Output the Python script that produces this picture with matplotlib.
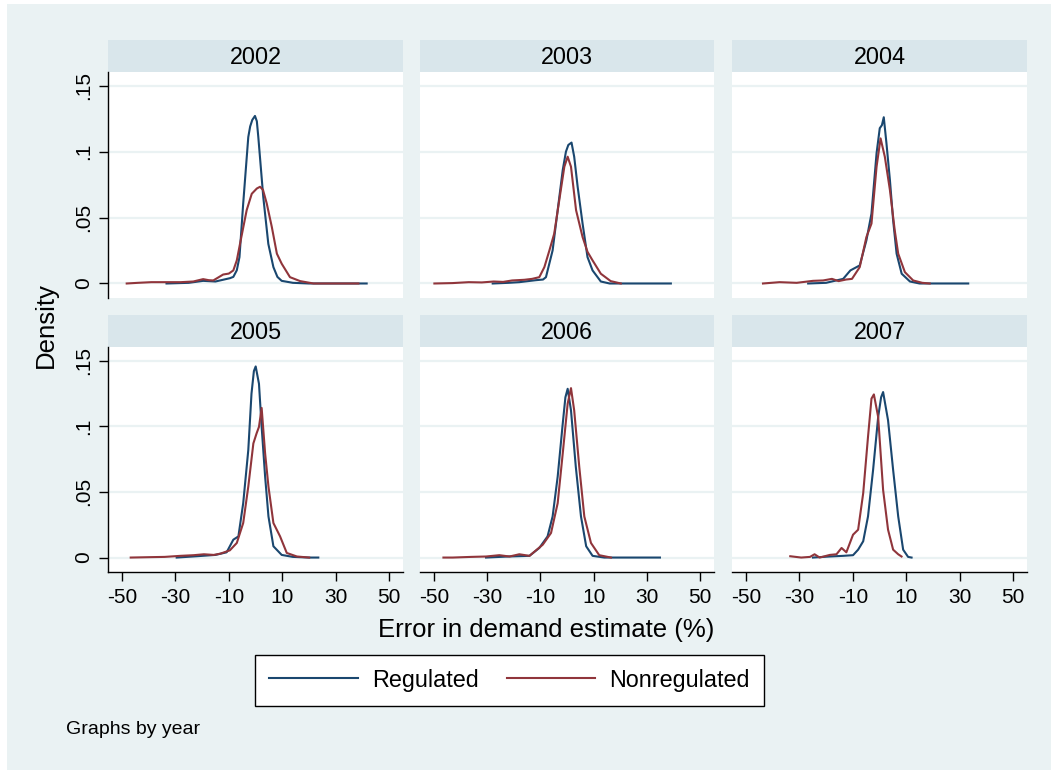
import matplotlib
matplotlib.use("Agg")
import matplotlib.pyplot as plt
from matplotlib.lines import Line2D

plt.rcParams['font.family'] = ['Liberation Sans', 'DejaVu Sans']

# kernel density curves, error in demand estimate (%) by year
years = [2002, 2003, 2004, 2005, 2006, 2007]

reg_x_2002 = [-33.3, -25, -19.6, -15, -9.6, -8.3, -7.0, -6.0, -4.6, -2.7, -2.0, -1.2, -0.2, 0.5, 1.05, 2.9, 4.8, 6.7, 8.2, 9.8, 14, 20, 30, 41.6]
reg_y_2002 = [0, 0.0005, 0.002, 0.0015, 0.004, 0.005, 0.010, 0.020, 0.0607, 0.111, 0.119, 0.124, 0.127, 0.123, 0.111, 0.0657, 0.030, 0.0124, 0.005, 0.002, 0.0005, 0, 0, 0]
non_x_2002 = [-48.2, -44, -39, -33, -28, -23.3, -19.6, -17.5, -15.8, -12.1, -10, -8.3, -7, -5.8, -3.3, -1.4, 0.5, 1.7, 2.8, 4.2, 6.1, 8.0, 9.8, 12.9, 16.7, 21.7, 30, 38.5]
non_y_2002 = [0, 0.0005, 0.001, 0.001, 0.001, 0.0015, 0.0033, 0.0025, 0.0023, 0.0068, 0.0075, 0.0099, 0.0175, 0.030, 0.0556, 0.068, 0.072, 0.0733, 0.071, 0.0607, 0.0429, 0.0226, 0.015, 0.0048, 0.0018, 0, 0, 0]

reg_x_2003 = [-27.9, -22, -17.9, -11.7, -9, -7.9, -5.4, -3.5, -1.6, -0.4, 0.5, 1.7, 2.7, 4.0, 5.85, 7.7, 9.6, 12.7, 16, 25, 39]
reg_y_2003 = [0, 0.0005, 0.001, 0.0025, 0.003, 0.0048, 0.0251, 0.0556, 0.086, 0.0999, 0.105, 0.1068, 0.0961, 0.0733, 0.0454, 0.020, 0.0099, 0.0015, 0, 0, 0]
non_x_2003 = [-49.8, -43, -36.9, -32, -27.5, -24, -20.6, -16, -13.1, -10.4, -8.5, -6.6, -4.8, -2.9, -1.0, 0.25, 1.5, 3.4, 5.85, 7.7, 9.6, 12.7, 16.4, 20.2]
non_y_2003 = [0, 0.0003, 0.001, 0.0008, 0.0015, 0.0012, 0.0023, 0.0028, 0.0035, 0.0048, 0.0124, 0.0251, 0.0378, 0.0632, 0.0885, 0.0961, 0.0885, 0.0556, 0.0352, 0.024, 0.0175, 0.0074, 0.0018, 0]

reg_x_2004 = [-26.7, -20, -13.6, -10.9, -7.4, -4.9, -3.0, -1.1, 0.1, 0.9, 1.6, 2.6, 3.9, 5.1, 6.4, 8.3, 11.4, 15, 25, 33.2]
reg_y_2004 = [0, 0.0005, 0.0035, 0.0099, 0.0137, 0.0327, 0.053, 0.0987, 0.1177, 0.120, 0.126, 0.1063, 0.0784, 0.048, 0.0226, 0.0074, 0.0015, 0, 0, 0]
non_x_2004 = [-43.6, -37.4, -31, -24.9, -21.1, -17.8, -15.3, -12.5, -10.3, -7.4, -4.9, -3.0, -1.1, 0.4, 2.0, 3.9, 5.7, 7.0, 9.5, 12.6, 16, 18.8]
non_y_2004 = [0, 0.001, 0.0005, 0.002, 0.0023, 0.0035, 0.0018, 0.003, 0.0035, 0.0124, 0.0352, 0.0454, 0.0885, 0.110, 0.096, 0.0708, 0.0403, 0.0226, 0.0086, 0.0023, 0.0005, 0]

reg_x_2005 = [-29.5, -22, -15, -10.8, -8.3, -6.4, -4.6, -2.7, -1.5, -0.6, 0.07, 1.3, 2.3, 3.6, 4.85, 6.7, 9.8, 14, 20, 23.5]
reg_y_2005 = [0, 0.001, 0.002, 0.004, 0.0136, 0.0161, 0.0414, 0.0818, 0.1248, 0.142, 0.1455, 0.1323, 0.0995, 0.0616, 0.0313, 0.0086, 0.002, 0.0005, 0, 0]
non_x_2005 = [-46.7, -39.4, -34, -28.1, -23.1, -19.3, -15.6, -13.1, -9.6, -7.0, -4.6, -2.7, -0.8, 0.4, 1.3, 2.3, 3.6, 4.85, 6.7, 9.2, 11.7, 15.5, 20.1]
non_y_2005 = [0, 0.0003, 0.0005, 0.0013, 0.0018, 0.0025, 0.002, 0.003, 0.0055, 0.0111, 0.0263, 0.054, 0.0869, 0.0945, 0.0995, 0.1139, 0.0793, 0.054, 0.0263, 0.0161, 0.0035, 0.0008, 0]

reg_x_2006 = [-30.4, -22, -14.1, -10.4, -7.3, -5.4, -3.5, -1.6, -0.6, 0.25, 1.5, 3.3, 5.25, 7.2, 9.6, 14, 25, 34.9]
reg_y_2006 = [0, 0.0008, 0.0013, 0.0073, 0.0161, 0.0313, 0.0616, 0.102, 0.122, 0.1285, 0.112, 0.0692, 0.0313, 0.0086, 0.0013, 0, 0, 0]
non_x_2006 = [-46.4, -42.9, -36, -30.4, -25.4, -21.6, -17.9, -14.1, -9.1, -6.0, -3.5, -1.6, 0.25, 1.5, 2.7, 4.6, 6.5, 9.0, 12.1, 16.5]
non_y_2006 = [0, 0, 0.0005, 0.0008, 0.0018, 0.0008, 0.0025, 0.0013, 0.0098, 0.0187, 0.0414, 0.0793, 0.1172, 0.129, 0.112, 0.0692, 0.0313, 0.0111, 0.0018, 0]

reg_x_2007 = [-24.9, -18.6, -13.6, -9.9, -8, -6.1, -4.3, -2.4, -0.5, 0.6, 1.35, 3.2, 5.1, 7.0, 8.85, 10.7, 12.0]
reg_y_2007 = [0, 0.0008, 0.0013, 0.0018, 0.006, 0.0124, 0.0313, 0.0667, 0.107, 0.122, 0.126, 0.1045, 0.0667, 0.0313, 0.006, 0.0005, 0.0]
non_x_2007 = [-33.4, -29.3, -26, -24.3, -22.4, -18.6, -16.1, -14.2, -12.4, -9.9, -8, -6.1, -4.3, -3.0, -2.1, -0.5, 1.35, 3.2, 5.1, 7.0, 8.25]
non_y_2007 = [0.001, 0, 0.0005, 0.0025, 0, 0.002, 0.0025, 0.0073, 0.004, 0.0174, 0.0212, 0.049, 0.0919, 0.121, 0.1242, 0.107, 0.0515, 0.0212, 0.006, 0.0025, 0.0008]

xticks = [-50, -30, -10, 10, 30, 50]
yticks = [0, 0.05, 0.1, 0.15]
yticklabels = ['0', '.05', '.1', '.15']

regulated = {2002: (reg_x_2002, reg_y_2002), 2003: (reg_x_2003, reg_y_2003),
             2004: (reg_x_2004, reg_y_2004), 2005: (reg_x_2005, reg_y_2005),
             2006: (reg_x_2006, reg_y_2006), 2007: (reg_x_2007, reg_y_2007)}
nonregulated = {2002: (non_x_2002, non_y_2002), 2003: (non_x_2003, non_y_2003),
                2004: (non_x_2004, non_y_2004), 2005: (non_x_2005, non_y_2005),
                2006: (non_x_2006, non_y_2006), 2007: (non_x_2007, non_y_2007)}

NAVY = '#1A476F'
MAROON = '#90353B'
BG = '#EAF2F3'
STRIP = '#D9E6EB'

W, H = 1051, 770
fig = plt.figure(figsize=(W / 100, H / 100), dpi=100, facecolor='white')


def rect(x0, y0, x1, y1):
    # pixel box -> figure fraction
    return [x0 / W, 1 - y1 / H, (x1 - x0) / W, (y1 - y0) / H]


# graph region background (sits behind all the panels)
bg = fig.add_axes([7 / W, 0, 1 - 7 / W, 1 - 4 / H], zorder=-10)
bg.set_facecolor(BG)
bg.set_xticks([])
bg.set_yticks([])
for sp in bg.spines.values():
    sp.set_visible(False)

cols = [(108, 403), (420, 714), (732, 1027)]
rows = [(40, 72, 298), (315, 347, 572)]

for i, year in enumerate(years):
    r, c = divmod(i, 3)
    x0, x1 = cols[c]
    s0, p0, p1 = rows[r]

    strip = fig.add_axes(rect(x0, s0, x1, p0))
    strip.set_facecolor(STRIP)
    strip.set_xticks([])
    strip.set_yticks([])
    for sp in strip.spines.values():
        sp.set_visible(False)
    strip.text(0.5, 0.45, str(year), ha='center', va='center', fontsize=16.8,
               transform=strip.transAxes)

    ax = fig.add_axes(rect(x0, p0, x1, p1))
    ax.set_facecolor('white')
    ax.set_xlim(-55.2, 55.2)
    ax.set_ylim(-0.011, 0.1603)
    for yv in yticks:
        ax.axhline(yv, color=BG, lw=1.6, zorder=1)

    rx, ry = regulated[year]
    nx, ny = nonregulated[year]
    ax.plot(rx, ry, color=NAVY, lw=1.5, zorder=3)
    ax.plot(nx, ny, color=MAROON, lw=1.5, zorder=3)

    for sp in ax.spines.values():
        sp.set_visible(False)

    if c == 0:
        ax.spines['left'].set_visible(True)
        ax.spines['left'].set_linewidth(1.0)
        ax.set_yticks(yticks)
        ax.set_yticklabels(yticklabels, rotation=90, va='center', fontsize=15)
        ax.tick_params(axis='y', length=6.5, width=1.0, pad=4)
    else:
        ax.set_yticks([])

    if r == 1:
        ax.spines['bottom'].set_visible(True)
        ax.spines['bottom'].set_linewidth(1.0)
        ax.set_xticks(xticks)
        ax.set_xticklabels([str(v) for v in xticks], fontsize=15)
        ax.tick_params(axis='x', length=6.5, width=1.0, pad=5)
    else:
        ax.set_xticks([])

fig.text(46 / W, 1 - 325 / H, 'Density', rotation=90, ha='center', va='center', fontsize=18.5)
fig.text(546 / W, 1 - 630 / H, 'Error in demand estimate (%)', ha='center', va='center', fontsize=18.5)
fig.text(66 / W, 1 - 729 / H, 'Graphs by year', ha='left', va='center', fontsize=14)

handles = [Line2D([], [], color=NAVY, lw=1.5), Line2D([], [], color=MAROON, lw=1.5)]
leg = fig.legend(handles, ['Regulated', 'Nonregulated'], ncol=2, loc='center',
                 bbox_to_anchor=(509.5 / W, 1 - 680 / H), fontsize=16.8, frameon=True,
                 fancybox=False, edgecolor='black', framealpha=1, handlelength=3.8,
                 handletextpad=0.6, columnspacing=1.2, borderpad=0.6)
leg.get_frame().set_linewidth(1.0)

fig.savefig('out.png', dpi=100, facecolor=fig.get_facecolor())
